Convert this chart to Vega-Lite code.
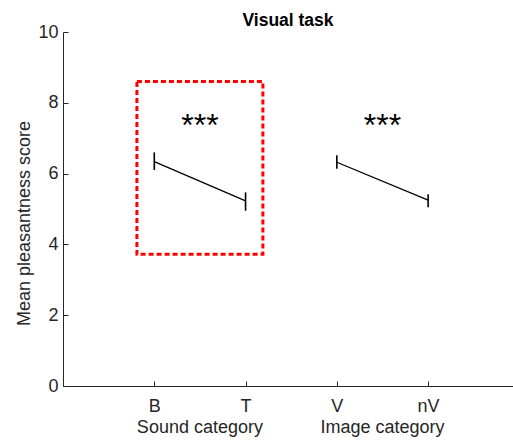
{
  "$schema": "https://vega.github.io/schema/vega-lite/v6.json",
  "description": "Mean pleasantness score, visual task",
  "autosize": {"type": "none"},
  "padding": {"left": 63, "top": 32, "right": 0, "bottom": 62},
  "width": 450,
  "height": 354,
  "title": {
    "text": "Visual task",
    "fontSize": 17.5,
    "fontWeight": "bold",
    "color": "#000000",
    "anchor": "middle",
    "baseline": "top",
    "offset": -6
  },
  "datasets": {
    "scores": [
      {"cond": "B", "pos": 1, "group": "Sound", "mean": 6.34, "lo": 6.10, "hi": 6.60},
      {"cond": "T", "pos": 2, "group": "Sound", "mean": 5.23, "lo": 4.95, "hi": 5.47},
      {"cond": "V", "pos": 3, "group": "Image", "mean": 6.32, "lo": 6.14, "hi": 6.52},
      {"cond": "nV", "pos": 4, "group": "Image", "mean": 5.25, "lo": 5.05, "hi": 5.42}
    ],
    "stars": [
      {"pos": 1.5, "y": 7.06, "label": "***"},
      {"pos": 3.5, "y": 7.06, "label": "***"}
    ],
    "box": [
      {"x1": 0.81, "x2": 2.19, "y1": 3.72, "y2": 8.6}
    ],
    "groups": [
      {"pos": 1.5, "y": -1.19, "label": "Sound category"},
      {"pos": 3.5, "y": -1.19, "label": "Image category"}
    ]
  },
  "layer": [
    {
      "data": {"name": "scores"},
      "mark": {"type": "line", "color": "#000000", "strokeWidth": 1.3},
      "encoding": {
        "x": {
          "field": "pos",
          "type": "quantitative",
          "scale": {"domain": [0, 4.93], "nice": false, "zero": false},
          "axis": {
            "values": [1, 2, 3, 4],
            "labelExpr": "datum.value == 1 ? 'B' : datum.value == 2 ? 'T' : datum.value == 3 ? 'V' : 'nV'",
            "labelPadding": 16,
            "title": null
          }
        },
        "y": {
          "field": "mean",
          "type": "quantitative",
          "scale": {"domain": [0, 10], "nice": false},
          "axis": {
            "values": [0, 2, 4, 6, 8, 10],
            "labelPadding": 10,
            "title": "Mean pleasantness score",
            "titleX": -39,
            "titleY": 191,
            "titleBaseline": "middle",
            "titleAngle": -90
          }
        },
        "detail": {"field": "group"}
      }
    },
    {
      "data": {"name": "scores"},
      "mark": {"type": "rule", "color": "#000000", "strokeWidth": 1.6},
      "encoding": {
        "x": {"field": "pos", "type": "quantitative"},
        "y": {"field": "lo", "type": "quantitative"},
        "y2": {"field": "hi"}
      }
    },
    {
      "data": {"name": "box"},
      "mark": {"type": "rect", "fillOpacity": 0, "stroke": "#ff0000", "strokeWidth": 3, "strokeDash": [5, 3]},
      "encoding": {
        "x": {"field": "x1", "type": "quantitative"},
        "x2": {"field": "x2"},
        "y": {"field": "y1", "type": "quantitative"},
        "y2": {"field": "y2"}
      }
    },
    {
      "data": {"name": "stars"},
      "mark": {"type": "text", "fontSize": 32, "baseline": "alphabetic", "align": "center", "color": "#000000"},
      "encoding": {
        "x": {"field": "pos", "type": "quantitative"},
        "y": {"field": "y", "type": "quantitative"},
        "text": {"field": "label"}
      }
    },
    {
      "data": {"name": "groups"},
      "mark": {"type": "text", "fontSize": 18, "baseline": "middle", "align": "center", "color": "#262626"},
      "encoding": {
        "x": {"field": "pos", "type": "quantitative"},
        "y": {"field": "y", "type": "quantitative"},
        "text": {"field": "label"}
      }
    }
  ],
  "config": {
    "font": "Liberation Sans",
    "view": {"stroke": null},
    "axis": {
      "grid": false,
      "domainColor": "#262626",
      "domainWidth": 1,
      "tickColor": "#262626",
      "tickSize": -5,
      "labelColor": "#262626",
      "labelFontSize": 18,
      "titleColor": "#262626",
      "titleFontSize": 18,
      "titleFontWeight": "normal"
    }
  }
}
